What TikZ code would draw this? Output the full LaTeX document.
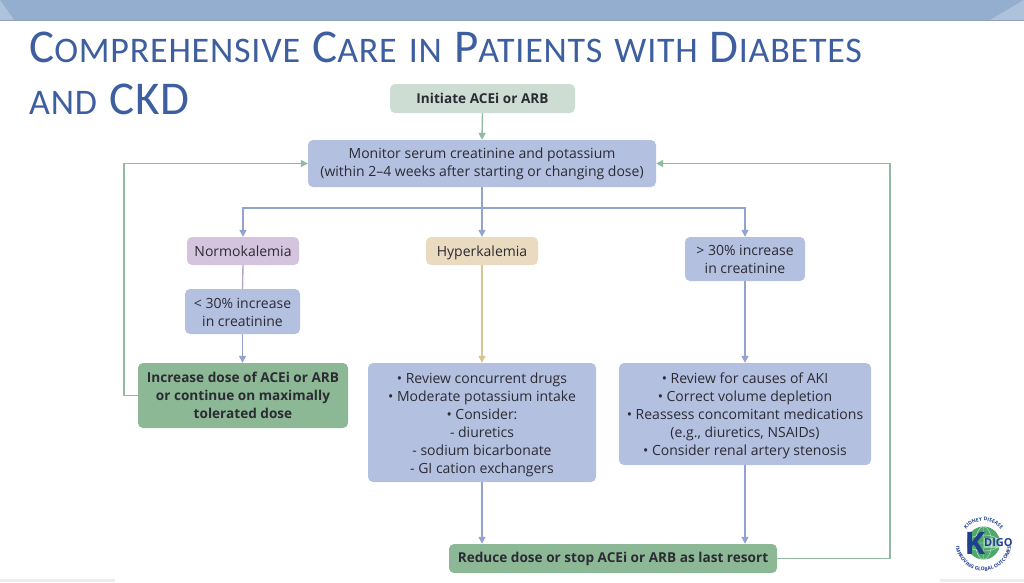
\documentclass[tikz,border=0pt]{standalone}
\usepackage{fontspec}
\setmainfont{Open Sans}
\newfontfamily\titlefont[LetterSpace=2.2,WordSpace=1.35]{Carlito}
\usetikzlibrary{arrows.meta,calc,decorations.text}
\definecolor{bandc}{HTML}{94AECF}
\definecolor{bandl}{HTML}{AFC2DC}
\definecolor{titlec}{HTML}{3D5FA0}
\definecolor{bluebox}{HTML}{B4C0E0}
\definecolor{greenbox}{HTML}{8DB896}
\definecolor{palegreen}{HTML}{CEDDD3}
\definecolor{purplebox}{HTML}{D4C4DE}
\definecolor{tanbox}{HTML}{E9DAC0}
\definecolor{bluearrow}{HTML}{93A3D0}
\definecolor{greenarrow}{HTML}{90BBA0}
\definecolor{tanarrow}{HTML}{D9C592}
\definecolor{purpleline}{HTML}{B5A8C8}
\definecolor{txt}{HTML}{2B2B33}
\definecolor{kblue}{HTML}{1F3F8F}
\definecolor{kgreen}{HTML}{4FA76B}
\tikzset{
 x=1pt,y=-1pt,
 box/.style={rounded corners=5pt,align=center,text=txt,font=\fontsize{14}{18}\selectfont,inner sep=0pt},
 bluefill/.style={box,fill=bluebox},
 greenfill/.style={box,fill=greenbox,font=\fontsize{13.6}{18}\selectfont\bfseries},
 conn/.style={line width=1.4pt,-{Triangle[length=7pt,width=7pt]}},
 plainconn/.style={line width=1.4pt},
}
\newcommand{\bx}[7]{\node[#2,minimum width=#5pt-#3pt,minimum height=#6pt-#4pt] (#1) at ({(#3+#5)/2},{(#4+#6)/2}) {#7};}
\newcommand{\ttl}[2]{{\fontsize{47}{47}\selectfont #1}{\fontsize{36}{36}\selectfont #2}}
\newcommand{\lift}[1]{\rule{0pt}{#1pt}}
\begin{document}
\begin{tikzpicture}
\useasboundingbox (0,0) rectangle (1024,582);
\fill[white] (0,0) rectangle (1024,582);
% band
\fill[bandc] (0,0) rectangle (1024,20);
\fill[bandl] (0,0) -- (14,20) -- (0,20) -- cycle;
\fill[bandl] (1024,0) -- (1024,20) -- (990,20) -- cycle;
\fill[bandc!75!gray] (0,20) rectangle (1024,21);
\fill[black!7] (0,579) rectangle (115,582);
\fill[black!7] (940,579) rectangle (1024,582);
% title
\node[anchor=base west,inner sep=0pt,text=titlec,font=\titlefont\fontsize{36}{36}\selectfont] (t1) at (29,62) {\ttl{C}{OMPREHENSIVE} \ttl{C}{ARE IN} \ttl{P}{ATIENTS WITH} \ttl{D}{IABETES}};
\node[anchor=base west,inner sep=0pt,text=titlec,font=\titlefont\fontsize{36}{36}\selectfont] (t2) at (29,114) {AND {\fontsize{47}{47}\selectfont CKD}};
% boxes
\bx{init}{box,fill=palegreen,font=\fontsize{13.6}{18}\selectfont\bfseries}{390}{84}{575}{113}{Initiate ACEi or ARB}
\bx{mon}{bluefill}{308}{140}{656}{187}{\lift{12}Monitor serum creatinine and potassium\\(within 2–4 weeks after starting or changing dose)}
\bx{normo}{box,fill=purplebox}{187}{237}{299}{265}{Normokalemia}
\bx{hyper}{box,fill=tanbox,text depth=0pt}{426}{237}{538}{265}{Hyperkalemia}
\bx{gt}{bluefill}{685}{237}{805}{281}{> 30\% increase\\in creatinine}
\bx{lt}{bluefill}{185}{289}{300}{334}{\lift{12}< 30\% increase\\in creatinine}
\bx{incr}{greenfill}{138}{363}{348}{428}{Increase dose of ACEi or ARB\\or continue on maximally\\tolerated dose}
\bx{rev}{bluefill}{368}{363}{596}{482}{\lift{16}• Review concurrent drugs\\• Moderate potassium intake\\• Consider:\\- diuretics\\- sodium bicarbonate\\- GI cation exchangers}
\bx{aki}{bluefill}{619}{363}{871}{465}{\lift{14}• Review for causes of AKI\\• Correct volume depletion\\• Reassess concomitant medications\\(e.g., diuretics, NSAIDs)\\• Consider renal artery stenosis}
\bx{red}{greenfill}{449}{544}{777}{573}{Reduce dose or stop ACEi or ARB as last resort}
% connectors
\coordinate (branch) at (mon.south |- 0,208);
\draw[conn,draw=greenarrow] (init.south) -- (mon.north);
\draw[conn,draw=bluearrow] (mon.south) -- (hyper.north);
\draw[conn,draw=bluearrow] (branch) -| (normo.north);
\draw[conn,draw=bluearrow] (branch) -| (gt.north);
\draw[plainconn,draw=purpleline] (normo.south) -- (lt.north);
\draw[conn,draw=bluearrow] (lt.south) -- (incr.north -| lt.south);
\draw[conn,draw=tanarrow] (hyper.south) -- (rev.north -| hyper.south);
\draw[conn,draw=bluearrow] (gt.south) -- (aki.north -| gt.south);
\draw[conn,draw=bluearrow] (rev.south) -- (red.north -| rev.south);
\draw[conn,draw=bluearrow] (aki.south -| gt.south) -- (red.north -| gt.south);
\draw[conn,draw=greenarrow] (incr.west) -- ++(-14,0) |- (mon.west);
\draw[conn,draw=greenarrow] (red.east) -- (890,558.5) |- (mon.east);
% logo
\coordinate (lc) at (983.5,543);
\node[circle,fill=kgreen,minimum size=33pt,inner sep=0pt] (globe) at (lc) {};
\draw[white!70!kgreen,line width=.4pt] (globe.west) -- (globe.east) (globe.north) -- (globe.south) (lc) ellipse (8pt and 16.5pt) (lc) ellipse (16.5pt and 8pt);
\node[text=kblue,font=\fontsize{31}{31}\selectfont\bfseries,inner sep=0pt] (klet) at (975,543) {K};
\node[text=kblue,fill=white,fill opacity=.45,text opacity=1,font=\fontsize{11}{11}\selectfont\bfseries,inner sep=.5pt,anchor=west] (digo) at (983.5,543) {DIGO};
\path[postaction={decorate,decoration={text along path,text align=center,text={|\fontsize{5}{5}\selectfont\bfseries\color{kblue}|KIDNEY DISEASE}}}] ($(lc)+(160:22pt)$) arc[start angle=160,end angle=20,radius=22pt];
\path[postaction={decorate,decoration={text along path,text align=center,text={|\fontsize{5}{5}\selectfont\bfseries\color{kblue}|IMPROVING GLOBAL OUTCOMES}}}] ($(lc)+(165:28pt)$) arc[start angle=165,end angle=375,radius=28pt];
\end{tikzpicture}
\end{document}
